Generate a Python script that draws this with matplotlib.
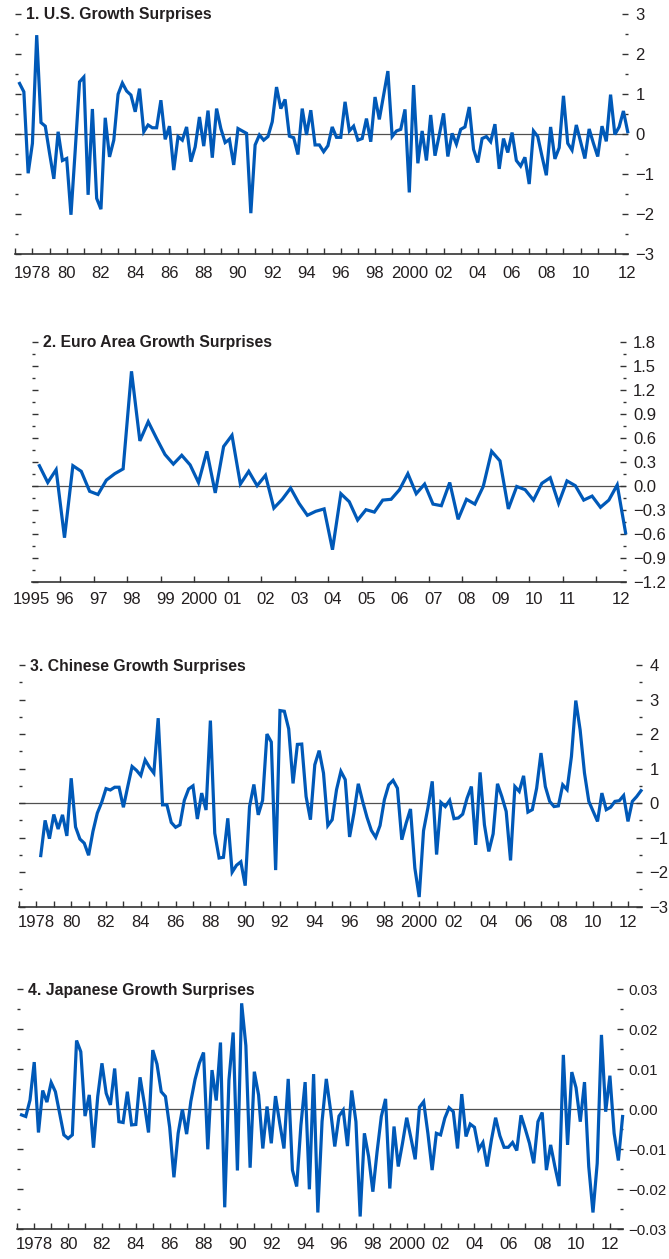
import numpy as np
import pandas as pd
import matplotlib
matplotlib.use('Agg')
import matplotlib.pyplot as plt
from matplotlib.ticker import FixedLocator, FixedFormatter, MultipleLocator
import matplotlib.transforms as mtransforms

# ---- data ----
# 1. U.S. growth surprises, quarterly 1977Q2 - 2012Q4
us_start = '1977Q2'
us_vals = [1.26, 1.05, -0.99,
           -0.24, 2.47, 0.28, 0.19,
           -0.49, -1.13, 0.05, -0.67,
           -0.62, -2.03, -0.40, 1.30,
           1.42, -1.53, 0.62, -1.62,
           -1.89, 0.40, -0.58, -0.16,
           0.99, 1.27, 1.07, 0.97,
           0.55, 1.13, 0.05, 0.22,
           0.15, 0.15, 0.84, -0.14,
           0.19, -0.91, -0.07, -0.16,
           0.17, -0.70, -0.33, 0.42,
           -0.31, 0.58, -0.60, 0.63,
           0.13, -0.22, -0.14, -0.78,
           0.13, 0.07, 0.01, -1.99,
           -0.28, -0.03, -0.16, -0.07,
           0.30, 1.17, 0.63, 0.86,
           -0.06, -0.10, -0.52, 0.63,
           -0.03, 0.59, -0.28, -0.28,
           -0.45, -0.30, 0.17, -0.09,
           -0.09, 0.80, 0.07, 0.19,
           -0.16, -0.12, 0.38, -0.20,
           0.92, 0.36, 0.97, 1.57,
           -0.07, 0.07, 0.11, 0.61,
           -1.47, 1.22, -0.74, 0.07,
           -0.67, 0.47, -0.55, -0.03,
           0.51, -0.57, 0.01, -0.26,
           0.11, 0.17, 0.67, -0.39,
           -0.72, -0.12, -0.07, -0.20,
           0.24, -0.88, -0.12, -0.47,
           0.03, -0.67, -0.81, -0.59,
           -1.26, 0.07, -0.07, -0.57,
           -1.04, 0.17, -0.63, -0.35,
           0.95, -0.24, -0.41, 0.22,
           -0.20, -0.62, 0.12, -0.24,
           -0.57, 0.19, -0.19, 0.98,
           -0.02, 0.17, 0.57, 0.05]

# 2. Euro area growth surprises, quarterly 1995Q2 - 2012Q4 (plotted mid-quarter)
ea_start = '1995Q2'
ea_vals = [0.25, 0.04, 0.20,
           -0.65, 0.25, 0.18, -0.07,
           -0.11, 0.07, 0.15, 0.21,
           1.43, 0.56, 0.80, 0.59,
           0.39, 0.27, 0.38, 0.26,
           0.04, 0.43, -0.09, 0.49,
           0.63, 0.02, 0.18, 0.00,
           0.13, -0.28, -0.17, -0.03,
           -0.22, -0.37, -0.32, -0.29,
           -0.80, -0.10, -0.20, -0.43,
           -0.30, -0.33, -0.18, -0.17,
           -0.05, 0.15, -0.10, 0.02,
           -0.23, -0.25, 0.04, -0.42,
           -0.17, -0.23, -0.01, 0.43,
           0.31, -0.29, -0.01, -0.05,
           -0.18, 0.03, 0.10, -0.22,
           0.06, 0.00, -0.18, -0.13,
           -0.27, -0.18, 0.01, -0.59]

# 3. Chinese growth surprises, quarterly 1978Q2 - 2012Q4
cn_start = '1978Q2'
cn_vals = [-1.52, -0.50, -1.03,
           -0.33, -0.75, -0.34, -0.95,
           0.72, -0.69, -1.04, -1.16,
           -1.51, -0.82, -0.29, 0.02,
           0.42, 0.38, 0.46, 0.46,
           -0.12, 0.48, 1.06, 0.95,
           0.80, 1.25, 1.04, 0.87,
           2.46, -0.05, -0.05, -0.56,
           -0.70, -0.63, 0.08, 0.41,
           0.50, -0.46, 0.29, -0.20,
           2.39, -0.87, -1.59, -1.57,
           -0.44, -2.00, -1.80, -1.70,
           -2.39, -0.10, 0.54, -0.34,
           0.08, 2.00, 1.77, -1.94,
           2.68, 2.66, 2.15, 0.57,
           1.70, 1.71, 0.19, -0.48,
           1.11, 1.52, 0.87, -0.65,
           -0.48, 0.39, 0.92, 0.68,
           -0.98, -0.29, 0.56, 0.05,
           -0.41, -0.79, -0.99, -0.65,
           0.10, 0.53, 0.66, 0.43,
           -1.06, -0.58, -0.17, -1.88,
           -2.72, -0.80, -0.14, 0.63,
           -1.49, 0.02, -0.10, 0.08,
           -0.45, -0.43, -0.32, 0.14,
           0.48, -1.21, 0.89, -0.63,
           -1.40, -0.89, 0.56, 0.19,
           -0.24, -1.66, 0.48, 0.34,
           0.79, -0.26, -0.19, 0.43,
           1.45, 0.48, 0.05, -0.10,
           -0.08, 0.53, 0.39, 1.35,
           2.97, 2.12, 0.87, 0.05,
           -0.24, -0.53, 0.29, -0.19,
           -0.12, 0.05, 0.07, 0.22,
           -0.53, 0.05, 0.19, 0.36]

# 4. Japanese growth surprises, quarterly 1977Q2 - 2012Q4
jp_start = '1977Q2'
jp_vals = [-0.0014, -0.0018, 0.0023,
           0.0118, -0.0058, 0.0047, 0.0018,
           0.0067, 0.0044, -0.0010, -0.0064,
           -0.0073, -0.0064, 0.0172, 0.0144,
           -0.0017, 0.0036, -0.0096, 0.0032,
           0.0115, 0.0040, 0.0011, 0.0102,
           -0.0031, -0.0033, 0.0044, -0.0039,
           -0.0038, 0.0080, 0.0015, -0.0058,
           0.0148, 0.0113, 0.0044, 0.0032,
           -0.0045, -0.0170, -0.0060, 0.0000,
           -0.0062, 0.0020, 0.0075, 0.0115,
           0.0142, -0.0100, 0.0098, 0.0022,
           0.0167, -0.0245, 0.0073, 0.0192,
           -0.0153, 0.0265, 0.0159, -0.0146,
           0.0094, 0.0036, -0.0098, 0.0007,
           -0.0085, 0.0033, -0.0035, -0.0098,
           0.0076, -0.0152, -0.0193, -0.0040,
           0.0068, -0.0200, 0.0088, -0.0258,
           -0.0030, 0.0076, -0.0002, -0.0093,
           -0.0017, -0.0002, -0.0092, 0.0047,
           -0.0031, -0.0268, -0.0060, -0.0118,
           -0.0206, -0.0106, -0.0018, 0.0026,
           -0.0198, -0.0043, -0.0143, -0.0085,
           -0.0021, -0.0072, -0.0125, 0.0005,
           0.0019, -0.0060, -0.0152, -0.0060,
           -0.0064, -0.0022, 0.0004, -0.0006,
           -0.0098, 0.0038, -0.0068, -0.0037,
           -0.0045, -0.0100, -0.0083, -0.0143,
           -0.0077, -0.0021, -0.0066, -0.0095,
           -0.0095, -0.0083, -0.0103, -0.0015,
           -0.0049, -0.0085, -0.0135, -0.0031,
           -0.0008, -0.0152, -0.0089, -0.0143,
           -0.0192, 0.0136, -0.0089, 0.0093,
           0.0054, -0.0031, 0.0068, -0.0143,
           -0.0258, -0.0135, 0.0186, -0.0006,
           0.0084, -0.0060, -0.0128, -0.0018]

# y tick labels
us_yticks = [3, 2, 1, 0, -1, -2, -3]
us_ylabels = ['3', '2', '1', '0', '\u22121', '\u22122', '\u22123']
ea_yticks = [1.8, 1.5, 1.2, 0.9, 0.6, 0.3, 0.0, -0.3, -0.6, -0.9, -1.2]
ea_ylabels = ['1.8', '1.5', '1.2', '0.9', '0.6', '0.3', '0.0',
              '\u22120.3', '\u22120.6', '\u22120.9', '\u22121.2']
cn_yticks = [4, 3, 2, 1, 0, -1, -2, -3]
cn_ylabels = ['4', '3', '2', '1', '0', '\u22121', '\u22122', '\u22123']
jp_yticks = [0.03, 0.02, 0.01, 0.0, -0.01, -0.02, -0.03]
jp_ylabels = ['0.03', '0.02', '0.01', '0.00', '\u22120.01', '\u22120.02', '\u22120.03']

# x tick labels
long_xlabels = ['1978', '80', '82', '84', '86', '88', '90', '92', '94', '96', '98',
                '2000', '02', '04', '06', '08', '10', '12']
ea_xlabels = ['1995', '96', '97', '98', '99', '2000', '01', '02', '03', '04',
              '05', '06', '07', '08', '09', '10', '11', '12']

titles = ['1. U.S. Growth Surprises', '2. Euro Area Growth Surprises',
          '3. Chinese Growth Surprises', '4. Japanese Growth Surprises']


def quarter_years(start, n, mid=False):
    #fractional year for each quarter
    p = pd.period_range(start, periods=n, freq='Q')
    x = p.year + (p.quarter - 1) / 4.0
    if mid:
        x = x + 0.125
    return np.asarray(x, dtype=float)


FONT = ['Liberation Sans', 'DejaVu Sans']
TICK_SIZE, TITLE_SIZE = 12, 11.3
BLUE = '#0059b8'
INK = '#231f20'
W, H = 669, 1259

fig = plt.figure(figsize=(W / 100, H / 100), dpi=100)
fig.patch.set_facecolor('white')


def panel(box, x, y, ylim, yticks, ylabels, yminor, xlim, xyears, xlab_pos, xlab_txt, title, xpad,
          ysize=TICK_SIZE, ypad=5.5):
    left, top, right, bottom = box
    ax = fig.add_axes([left / W, 1 - bottom / H, (right - left) / W, (bottom - top) / H])
    ax.axhline(0, color='#505050', lw=0.9, zorder=1)
    ax.plot(x, y, color=BLUE, lw=2.3, solid_joinstyle='miter', zorder=3, clip_on=False)
    ax.set_xlim(xlim)
    ax.set_ylim(ylim)

    for s in ['left', 'top', 'right']:
        ax.spines[s].set_visible(False)
    ax.spines['bottom'].set_color('#333333')
    ax.spines['bottom'].set_linewidth(1.2)

    # x axis: yearly tick marks (minor) and labels (major, no marks)
    ax.xaxis.remove_overlapping_locs = False
    ax.xaxis.set_minor_locator(FixedLocator(xyears))
    ax.xaxis.set_major_locator(FixedLocator(xlab_pos))
    ax.xaxis.set_major_formatter(FixedFormatter(xlab_txt))
    ax.tick_params(axis='x', which='major', length=0, pad=xpad,
                   labelsize=TICK_SIZE, labelcolor=INK)
    ax.tick_params(axis='x', which='minor', direction='in', length=4.6,
                   width=1.0, color='#333333')

    # y axis: marks both sides, labels right
    ax.yaxis.set_major_locator(FixedLocator(yticks))
    ax.yaxis.set_major_formatter(FixedFormatter(ylabels))
    ax.yaxis.set_minor_locator(MultipleLocator(yminor))
    ax.tick_params(axis='y', which='both', direction='in', left=True, right=True,
                   labelleft=False, labelright=True, color='#333333', width=1.0)
    ax.tick_params(axis='y', which='major', length=4.0, pad=ypad,
                   labelsize=ysize, labelcolor=INK)
    ax.tick_params(axis='y', which='minor', length=2.0)
    for t in ax.get_xticklabels() + ax.get_yticklabels():
        t.set_fontfamily(FONT)

    tr = mtransforms.offset_copy(ax.transAxes, fig=fig, x=11, y=-5.5, units='dots')
    ax.text(0, 1, title, transform=tr, ha='left', va='baseline',
            fontsize=TITLE_SIZE, fontweight='bold', color=INK, family=FONT)
    return ax


yrs_long = np.arange(1977, 2013)
even_yrs = np.arange(1978, 2013, 2)

# 1. U.S.
x_us = quarter_years(us_start, len(us_vals))
us_lab_pos = list(even_yrs[:-1]) + [2012.7]
panel((15.3, 14, 627.7, 253.5), x_us, us_vals, (-3, 3), us_yticks, us_ylabels, 0.5,
      (1977, 2012.75), yrs_long, us_lab_pos, long_xlabels, titles[0], 9.2)

# 2. Euro area
x_ea = quarter_years(ea_start, len(ea_vals), mid=True)
ea_lab_pos = [1995.15] + [yr + 0.14 for yr in range(1996, 2012)] + [2012.74]
panel((31.7, 341.7, 625.6, 581.7), x_ea, ea_vals, (-1.2, 1.8), ea_yticks, ea_ylabels, 0.15,
      (1995.146, 2012.875), np.arange(1996, 2013), ea_lab_pos, ea_xlabels, titles[1], 7.2)

# 3. China
x_cn = quarter_years(cn_start, len(cn_vals))
panel((19, 665, 641.9, 906.7), x_cn, cn_vals, (-3, 4), cn_yticks, cn_ylabels, 0.5,
      (1977, 2012.8), yrs_long, list(even_yrs), long_xlabels, titles[2], 6.0)

# 4. Japan
x_jp = quarter_years(jp_start, len(jp_vals))
panel((17.3, 989.3, 622.6, 1229.3), x_jp, jp_vals, (-0.03, 0.03), jp_yticks, jp_ylabels, 0.005,
      (1977, 2012.75), yrs_long, list(even_yrs), long_xlabels, titles[3], 5.6,
      ysize=10.8, ypad=4.3)

fig.savefig('out.png', dpi=100, facecolor='white')
